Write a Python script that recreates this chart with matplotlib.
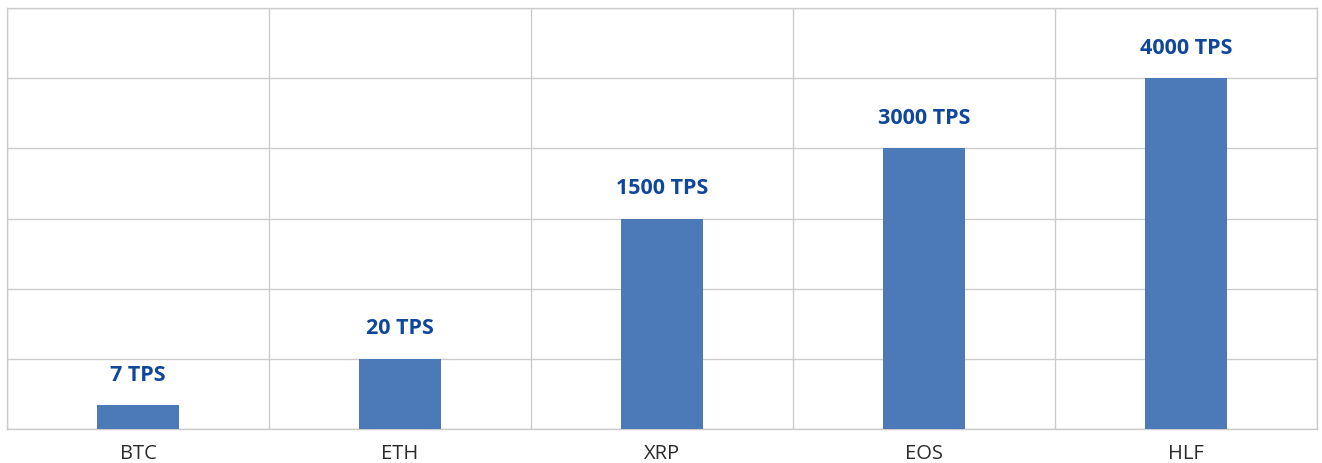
import matplotlib
matplotlib.use("Agg")
import matplotlib.pyplot as plt
import numpy as np

# chart data (bar heights are in grid units as drawn; labels carry the real TPS)
coins = ["BTC", "ETH", "XRP", "EOS", "HLF"]
bar_heights = [0.34, 1, 3, 4, 5]
tps_labels = ["7 TPS", "20 TPS", "1500 TPS", "3000 TPS", "4000 TPS"]
y_max = 6

plt.rcParams["font.family"] = ["Open Sans", "DejaVu Sans"]

fig = plt.figure(figsize=(13.22, 4.63), dpi=100)
ax = fig.add_axes([7 / 1322, 34 / 463, 1310 / 1322, 421 / 463])

x = np.arange(len(coins))
bars = ax.bar(x, bar_heights, width=0.31, color="#4C7AB8", zorder=3)

for rect, label in zip(bars, tps_labels):
    ax.annotate(label, (rect.get_x() + rect.get_width() / 2, rect.get_height()),
                xytext=(0, 21.5), textcoords="offset points", ha="center", va="center",
                fontsize=15.5, fontweight="bold", color="#0F479C")

ax.set_xlim(-0.5, len(coins) - 0.5)
ax.set_ylim(0, y_max)
ax.set_yticks(np.arange(0, y_max + 1))
ax.set_xticks(x)
ax.set_xticklabels(coins, fontsize=14.5, color="#2A2A2A")
ax.set_xticks(np.arange(-0.5, len(coins)), minor=True)
ax.tick_params(axis="x", which="both", length=0, pad=11)
ax.tick_params(axis="y", length=0, labelleft=False)

ax.grid(axis="y", which="major", color="#CCCCCC", linewidth=1, zorder=0)
ax.grid(axis="x", which="minor", color="#CCCCCC", linewidth=1, zorder=0)
for spine in ax.spines.values():
    spine.set_color("#CCCCCC")
    spine.set_linewidth(1)

fig.savefig("out.png", dpi=100)
